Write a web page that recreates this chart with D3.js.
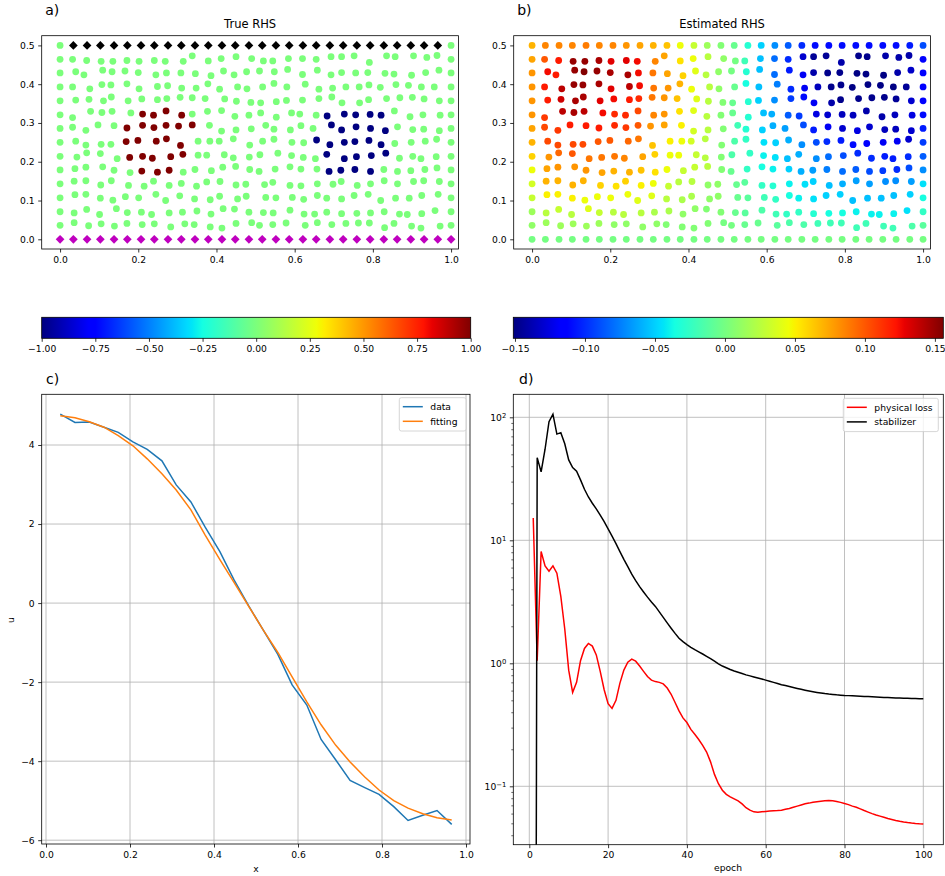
<!DOCTYPE html>
<html>
<head>
<meta charset="utf-8">
<script src="https://cdn.jsdelivr.net/npm/d3@7"></script>
<style>
  body { margin: 0; background: #fff; }
  svg { display: block; font-family: "DejaVu Sans", sans-serif; }
</style>
</head>
<body>
<div id="visualization"></div>
<script>
// ---- collocation points (rows 1..13, left to right, 30 per row) ----
const pointX = [
  0, 0.032, 0.068, 0.105, 0.135, 0.171, 0.202, 0.241, 0.269, 0.315, 0.338, 0.379, 0.412, 0.450, 0.490, 0.520, 0.544, 0.584, 0.620, 0.655, 0.693, 0.720, 0.752, 0.791, 0.835, 0.857, 0.904, 0.938, 0.964, 1,
  0, 0.040, 0.061, 0.109, 0.133, 0.166, 0.200, 0.245, 0.272, 0.309, 0.346, 0.386, 0.418, 0.445, 0.477, 0.510, 0.548, 0.582, 0.620, 0.658, 0.693, 0.720, 0.756, 0.787, 0.831, 0.854, 0.899, 0.935, 0.969, 1,
  0, 0.032, 0.076, 0.107, 0.130, 0.171, 0.202, 0.249, 0.275, 0.311, 0.348, 0.378, 0.408, 0.454, 0.478, 0.518, 0.547, 0.580, 0.627, 0.662, 0.697, 0.731, 0.765, 0.790, 0.819, 0.859, 0.891, 0.924, 0.957, 1,
  0, 0.040, 0.074, 0.111, 0.131, 0.174, 0.209, 0.249, 0.273, 0.307, 0.338, 0.371, 0.421, 0.451, 0.488, 0.513, 0.553, 0.579, 0.620, 0.662, 0.695, 0.721, 0.766, 0.789, 0.835, 0.869, 0.901, 0.931, 0.970, 1,
  0, 0.032, 0.078, 0.107, 0.133, 0.181, 0.211, 0.239, 0.271, 0.311, 0.338, 0.377, 0.413, 0.447, 0.483, 0.513, 0.553, 0.592, 0.613, 0.655, 0.683, 0.727, 0.756, 0.793, 0.821, 0.855, 0.895, 0.928, 0.972, 1,
  0, 0.032, 0.066, 0.097, 0.138, 0.171, 0.211, 0.240, 0.271, 0.303, 0.338, 0.382, 0.413, 0.450, 0.489, 0.526, 0.547, 0.589, 0.616, 0.647, 0.694, 0.720, 0.757, 0.794, 0.832, 0.863, 0.902, 0.930, 0.970, 1,
  0, 0.040, 0.066, 0.105, 0.130, 0.169, 0.199, 0.246, 0.272, 0.308, 0.353, 0.383, 0.407, 0.443, 0.485, 0.518, 0.547, 0.593, 0.623, 0.656, 0.690, 0.727, 0.754, 0.790, 0.821, 0.856, 0.898, 0.934, 0.963, 1,
  0, 0.043, 0.068, 0.103, 0.146, 0.178, 0.211, 0.236, 0.283, 0.314, 0.353, 0.375, 0.420, 0.443, 0.484, 0.511, 0.557, 0.592, 0.622, 0.653, 0.682, 0.727, 0.758, 0.796, 0.833, 0.868, 0.902, 0.923, 0.962, 1,
  0, 0.038, 0.066, 0.109, 0.138, 0.179, 0.209, 0.249, 0.279, 0.315, 0.345, 0.387, 0.416, 0.449, 0.485, 0.509, 0.550, 0.588, 0.616, 0.657, 0.688, 0.718, 0.754, 0.794, 0.828, 0.863, 0.897, 0.933, 0.964, 1,
  0, 0.036, 0.066, 0.104, 0.131, 0.175, 0.215, 0.239, 0.279, 0.310, 0.349, 0.375, 0.409, 0.450, 0.475, 0.523, 0.544, 0.588, 0.616, 0.658, 0.698, 0.719, 0.760, 0.794, 0.829, 0.863, 0.904, 0.930, 0.970, 1,
  0, 0.038, 0.066, 0.103, 0.135, 0.167, 0.201, 0.245, 0.270, 0.306, 0.344, 0.384, 0.408, 0.454, 0.476, 0.526, 0.552, 0.594, 0.623, 0.658, 0.682, 0.720, 0.752, 0.788, 0.820, 0.858, 0.893, 0.925, 0.967, 1,
  0, 0.036, 0.068, 0.101, 0.144, 0.172, 0.208, 0.234, 0.279, 0.313, 0.350, 0.386, 0.417, 0.446, 0.483, 0.520, 0.545, 0.588, 0.624, 0.651, 0.682, 0.720, 0.759, 0.794, 0.829, 0.868, 0.888, 0.925, 0.959, 1,
  0, 0.036, 0.073, 0.105, 0.139, 0.171, 0.210, 0.241, 0.283, 0.319, 0.343, 0.384, 0.414, 0.450, 0.490, 0.510, 0.544, 0.578, 0.627, 0.658, 0.695, 0.731, 0.763, 0.791, 0.830, 0.854, 0.899, 0.923, 0.972, 1
];

const pointY = [
  0.464, 0.464, 0.461, 0.459, 0.459, 0.461, 0.459, 0.461, 0.459, 0.459, 0.473, 0.460, 0.466, 0.471, 0.466, 0.460, 0.460, 0.466, 0.466, 0.464, 0.471, 0.471, 0.473, 0.456, 0.473, 0.471, 0.473, 0.469, 0.474, 0.464,
  0.429, 0.432, 0.424, 0.436, 0.432, 0.434, 0.430, 0.424, 0.429, 0.429, 0.427, 0.422, 0.434, 0.424, 0.432, 0.434, 0.432, 0.438, 0.425, 0.436, 0.424, 0.430, 0.429, 0.430, 0.428, 0.426, 0.423, 0.430, 0.436, 0.429,
  0.393, 0.393, 0.388, 0.399, 0.398, 0.401, 0.388, 0.394, 0.396, 0.390, 0.390, 0.401, 0.387, 0.393, 0.388, 0.393, 0.402, 0.393, 0.400, 0.387, 0.390, 0.393, 0.393, 0.398, 0.392, 0.399, 0.397, 0.393, 0.393, 0.393,
  0.357, 0.359, 0.361, 0.357, 0.367, 0.357, 0.362, 0.360, 0.363, 0.366, 0.365, 0.363, 0.362, 0.356, 0.353, 0.352, 0.355, 0.358, 0.359, 0.363, 0.367, 0.352, 0.352, 0.360, 0.363, 0.365, 0.366, 0.362, 0.357, 0.357,
  0.321, 0.314, 0.330, 0.327, 0.330, 0.326, 0.323, 0.320, 0.331, 0.320, 0.323, 0.330, 0.332, 0.317, 0.320, 0.326, 0.315, 0.326, 0.323, 0.320, 0.318, 0.323, 0.321, 0.322, 0.320, 0.331, 0.316, 0.321, 0.320, 0.321,
  0.286, 0.289, 0.281, 0.295, 0.293, 0.287, 0.294, 0.288, 0.294, 0.292, 0.295, 0.294, 0.279, 0.282, 0.285, 0.294, 0.284, 0.282, 0.293, 0.286, 0.295, 0.282, 0.290, 0.286, 0.280, 0.290, 0.283, 0.284, 0.280, 0.286,
  0.250, 0.253, 0.243, 0.245, 0.245, 0.252, 0.255, 0.253, 0.259, 0.242, 0.253, 0.253, 0.253, 0.259, 0.243, 0.253, 0.258, 0.250, 0.249, 0.256, 0.244, 0.250, 0.252, 0.255, 0.244, 0.247, 0.250, 0.253, 0.258, 0.250,
  0.214, 0.212, 0.223, 0.221, 0.208, 0.211, 0.214, 0.209, 0.213, 0.219, 0.217, 0.217, 0.218, 0.210, 0.212, 0.218, 0.222, 0.216, 0.211, 0.208, 0.219, 0.208, 0.213, 0.216, 0.222, 0.209, 0.214, 0.208, 0.213, 0.214,
  0.179, 0.182, 0.186, 0.187, 0.178, 0.172, 0.176, 0.173, 0.178, 0.173, 0.180, 0.177, 0.186, 0.188, 0.180, 0.175, 0.181, 0.187, 0.181, 0.181, 0.175, 0.178, 0.180, 0.175, 0.180, 0.175, 0.177, 0.180, 0.184, 0.179,
  0.143, 0.150, 0.151, 0.140, 0.151, 0.139, 0.137, 0.150, 0.139, 0.144, 0.137, 0.148, 0.149, 0.140, 0.142, 0.141, 0.147, 0.139, 0.138, 0.143, 0.142, 0.149, 0.139, 0.143, 0.151, 0.143, 0.149, 0.151, 0.149, 0.143,
  0.107, 0.115, 0.116, 0.106, 0.101, 0.110, 0.107, 0.116, 0.100, 0.112, 0.104, 0.102, 0.111, 0.104, 0.111, 0.108, 0.107, 0.108, 0.103, 0.113, 0.106, 0.104, 0.113, 0.116, 0.100, 0.106, 0.106, 0.113, 0.116, 0.107,
  0.071, 0.068, 0.077, 0.064, 0.079, 0.069, 0.070, 0.064, 0.068, 0.070, 0.073, 0.065, 0.079, 0.078, 0.070, 0.069, 0.068, 0.075, 0.065, 0.065, 0.070, 0.066, 0.067, 0.068, 0.071, 0.065, 0.064, 0.066, 0.074, 0.071,
  0.036, 0.043, 0.035, 0.040, 0.034, 0.041, 0.038, 0.040, 0.032, 0.040, 0.038, 0.032, 0.029, 0.041, 0.043, 0.036, 0.038, 0.042, 0.036, 0.043, 0.038, 0.041, 0.042, 0.042, 0.030, 0.041, 0.034, 0.029, 0.034, 0.036
];

const trueRHS = [
  0, 0, 0, 0, 0, 0, 0, 0, 0, 0, 0, 0, 0, 0, 0, 0, 0, 0, 0, 0, 0, 0, 0, 0, 0, 0, 0, 0, 0, 0,
  0, 0, 0, 0, 0, 0, 0, 0, 0, 0, 0, 0, 0, 0, 0, 0, 0, 0, 0, 0, 0, 0, 0, 0, 0, 0, 0, 0, 0, 0,
  0, 0, 0, 0, 0, 0, 0, 0, 0, 0, 0, 0, 0, 0, 0, 0, 0, 0, 0, 0, 0, 0, 0, 0, 0, 0, 0, 0, 0, 0,
  0, 0, 0, 0, 0, 0, 0, 0, 0, 0, 0, 0, 0, 0, 0, 0, 0, 0, 0, 0, 0, 0, 0, 0, 0, 0, 0, 0, 0, 0,
  0, 0, 0, 0, 0, 0, 1, 1, 1, 1, 0, 0, 0, 0, 0, 0, 0, 0, 0, 0, -1, -1, -1, -1, -1, 0, 0, 0, 0, 0,
  0, 0, 0, 0, 0, 1, 1, 1, 1, 1, 1, 0, 0, 0, 0, 0, 0, 0, 0, 0, -1, -1, -1, -1, -1, 0, 0, 0, 0, 0,
  0, 0, 0, 0, 0, 1, 1, 1, 1, 1, 0, 0, 0, 0, 0, 0, 0, 0, 0, -1, -1, -1, -1, -1, -1, 0, 0, 0, 0, 0,
  0, 0, 0, 0, 0, 1, 1, 1, 1, 1, 0, 0, 0, 0, 0, 0, 0, 0, 0, 0, -1, -1, -1, -1, -1, 0, 0, 0, 0, 0,
  0, 0, 0, 0, 0, 0, 1, 1, 1, 0, 0, 0, 0, 0, 0, 0, 0, 0, 0, 0, -1, -1, -1, -1, 0, 0, 0, 0, 0, 0,
  0, 0, 0, 0, 0, 0, 0, 0, 0, 0, 0, 0, 0, 0, 0, 0, 0, 0, 0, 0, 0, 0, 0, 0, 0, 0, 0, 0, 0, 0,
  0, 0, 0, 0, 0, 0, 0, 0, 0, 0, 0, 0, 0, 0, 0, 0, 0, 0, 0, 0, 0, 0, 0, 0, 0, 0, 0, 0, 0, 0,
  0, 0, 0, 0, 0, 0, 0, 0, 0, 0, 0, 0, 0, 0, 0, 0, 0, 0, 0, 0, 0, 0, 0, 0, 0, 0, 0, 0, 0, 0,
  0, 0, 0, 0, 0, 0, 0, 0, 0, 0, 0, 0, 0, 0, 0, 0, 0, 0, 0, 0, 0, 0, 0, 0, 0, 0, 0, 0, 0, 0
];

const estRHS = [
  0.075, 0.10, 0.12, 0.15, 0.15, 0.145, 0.13, 0.13, 0.125, 0.085, 0.075, 0.055, 0.045, 0.025, 0.01, 0.0, -0.02, -0.055, -0.08, -0.1, -0.13, -0.145, -0.145, -0.14, -0.148, -0.148, -0.14, -0.14, -0.14, -0.115,
  0.08, 0.125, 0.12, 0.15, 0.155, 0.15, 0.145, 0.145, 0.125, 0.09, 0.075, 0.06, 0.04, 0.025, 0.01, 0.0, -0.03, -0.055, -0.08, -0.105, -0.12, -0.14, -0.148, -0.148, -0.15, -0.15, -0.15, -0.14, -0.132, -0.115,
  0.08, 0.12, 0.14, 0.15, 0.15, 0.145, 0.13, 0.14, 0.125, 0.09, 0.08, 0.07, 0.045, 0.025, 0.01, -0.005, -0.035, -0.055, -0.075, -0.1, -0.12, -0.135, -0.148, -0.148, -0.15, -0.15, -0.15, -0.15, -0.145, -0.115,
  0.08, 0.12, 0.135, 0.145, 0.145, 0.13, 0.125, 0.12, 0.115, 0.09, 0.08, 0.065, 0.04, 0.025, 0.005, -0.005, -0.03, -0.05, -0.07, -0.095, -0.11, -0.12, -0.14, -0.148, -0.148, -0.148, -0.148, -0.145, -0.13, -0.115,
  0.08, 0.11, 0.14, 0.145, 0.14, 0.125, 0.115, 0.115, 0.105, 0.085, 0.08, 0.055, 0.04, 0.025, 0.005, -0.005, -0.03, -0.055, -0.06, -0.085, -0.095, -0.125, -0.13, -0.135, -0.135, -0.14, -0.14, -0.135, -0.125, -0.11,
  0.075, 0.105, 0.11, 0.12, 0.12, 0.12, 0.115, 0.11, 0.10, 0.08, 0.075, 0.05, 0.035, 0.025, 0.005, -0.02, -0.03, -0.05, -0.06, -0.065, -0.09, -0.105, -0.12, -0.13, -0.125, -0.13, -0.135, -0.135, -0.13, -0.105,
  0.07, 0.105, 0.105, 0.105, 0.105, 0.10, 0.10, 0.095, 0.09, 0.065, 0.05, 0.045, 0.035, 0.025, 0.005, -0.015, -0.025, -0.045, -0.05, -0.06, -0.07, -0.09, -0.10, -0.105, -0.11, -0.115, -0.12, -0.12, -0.13, -0.095,
  0.06, 0.08, 0.095, 0.10, 0.09, 0.09, 0.09, 0.085, 0.075, 0.06, 0.045, 0.045, 0.03, 0.025, 0.005, -0.015, -0.025, -0.04, -0.045, -0.055, -0.06, -0.07, -0.08, -0.09, -0.10, -0.10, -0.105, -0.105, -0.10, -0.085,
  0.045, 0.075, 0.08, 0.08, 0.08, 0.075, 0.07, 0.07, 0.065, 0.055, 0.045, 0.03, 0.03, 0.025, 0.005, -0.005, -0.025, -0.035, -0.04, -0.05, -0.06, -0.065, -0.075, -0.08, -0.085, -0.09, -0.095, -0.10, -0.09, -0.07,
  0.035, 0.07, 0.07, 0.07, 0.07, 0.06, 0.055, 0.06, 0.05, 0.045, 0.03, 0.025, 0.025, 0.01, 0.01, -0.005, -0.01, -0.025, -0.03, -0.04, -0.045, -0.05, -0.055, -0.06, -0.065, -0.065, -0.07, -0.07, -0.065, -0.045,
  0.03, 0.05, 0.05, 0.05, 0.045, 0.045, 0.045, 0.045, 0.04, 0.04, 0.025, 0.02, 0.02, 0.01, 0.01, -0.005, -0.01, -0.02, -0.025, -0.035, -0.04, -0.045, -0.05, -0.05, -0.055, -0.055, -0.055, -0.055, -0.05, -0.035,
  0.015, 0.025, 0.03, 0.025, 0.04, 0.03, 0.025, 0.025, 0.025, 0.02, 0.02, 0.01, 0.01, 0.005, 0.005, -0.005, -0.01, -0.015, -0.02, -0.025, -0.025, -0.03, -0.035, -0.035, -0.04, -0.04, -0.04, -0.04, -0.045, -0.025,
  0.01, 0.015, 0.015, 0.015, 0.015, 0.015, 0.01, 0.01, 0.01, 0.01, 0.005, 0.005, 0.005, 0.005, 0.0, 0.0, -0.005, -0.005, -0.01, -0.015, -0.015, -0.02, -0.02, -0.02, -0.02, -0.02, -0.02, -0.02, -0.015, -0.01
];

// top (y = 0.5) and bottom (y = 0) boundary rows
const edgeX = [0, 0.034, 0.069, 0.103, 0.138, 0.172, 0.207, 0.241, 0.276, 0.310, 0.345, 0.379, 0.414, 0.448, 0.483,
  0.517, 0.552, 0.586, 0.621, 0.655, 0.690, 0.724, 0.759, 0.793, 0.828, 0.862, 0.897, 0.931, 0.966, 1];
const topEst = [0.07, 0.085, 0.085, 0.085, 0.088, 0.085, 0.085, 0.08, 0.075, 0.07, 0.065, 0.045, 0.03, 0.015, 0.005,
  -0.005, -0.03, -0.05, -0.07, -0.085, -0.1, -0.11, -0.11, -0.11, -0.11, -0.11, -0.11, -0.11, -0.105, -0.09];
const bottomEst = [0, 0, 0, 0, 0, 0, 0, 0, 0, 0, 0, 0, 0, 0, 0, 0, 0, 0, 0, 0, 0, 0, 0, 0, 0, 0, 0, 0, 0, 0];

// ---- panel c ----
const curveX = [0.034, 0.069, 0.103, 0.138, 0.172, 0.207, 0.241, 0.276, 0.310, 0.345, 0.379, 0.414, 0.448, 0.483,
  0.517, 0.552, 0.586, 0.621, 0.655, 0.690, 0.724, 0.759, 0.793, 0.828, 0.862, 0.897, 0.931, 0.966];
const uData = [4.78, 4.57, 4.58, 4.45, 4.32, 4.08, 3.89, 3.60, 2.99, 2.56, 1.92, 1.30, 0.58, -0.08,
  -0.68, -1.30, -2.07, -2.58, -3.45, -3.97, -4.49, -4.67, -4.84, -5.15, -5.50, -5.37, -5.25, -5.60];
const uFit = [4.74, 4.69, 4.59, 4.45, 4.24, 3.98, 3.65, 3.27, 2.86, 2.36, 1.72, 1.10, 0.52, -0.09,
  -0.68, -1.25, -1.87, -2.50, -3.08, -3.60, -4.02, -4.40, -4.73, -5.00, -5.19, -5.33, -5.43, -5.49];

// ---- panel d (epochs 1..100) ----
const physLoss = [
  15.2, 1.05, 8.1, 6.2, 5.6, 6.2, 5.4, 3.5, 1.9, 0.88,
  0.58, 0.70, 1.05, 1.32, 1.45, 1.38, 1.17, 0.86, 0.61, 0.47,
  0.43, 0.50, 0.69, 0.88, 1.02, 1.08, 1.04, 0.95, 0.86, 0.78,
  0.73, 0.71, 0.70, 0.68, 0.63, 0.56, 0.48, 0.41, 0.36, 0.33,
  0.29, 0.265, 0.24, 0.215, 0.19, 0.158, 0.125, 0.105, 0.093, 0.086,
  0.082, 0.079, 0.076, 0.072, 0.067, 0.064, 0.062, 0.0615, 0.062, 0.0625,
  0.063, 0.0632, 0.0635, 0.064, 0.065, 0.066, 0.0675, 0.069, 0.0705, 0.072,
  0.073, 0.0742, 0.075, 0.0757, 0.0763, 0.0765, 0.0762, 0.0752, 0.074, 0.0725,
  0.071, 0.069, 0.0675, 0.0655, 0.0635, 0.0617, 0.060, 0.0585, 0.0572, 0.056,
  0.0548, 0.0538, 0.0528, 0.052, 0.0513, 0.0507, 0.0502, 0.0498, 0.0495, 0.0493
];
const stabilizer = [
  1e-12, 47, 36, 55, 92, 106, 73, 75, 61, 45,
  39, 36.5, 31, 26, 22.5, 20, 18, 16, 14.2, 12.4,
  10.8, 9.4, 8.1, 7.0, 6.1, 5.3, 4.7, 4.2, 3.8, 3.45,
  3.15, 2.9, 2.62, 2.36, 2.13, 1.93, 1.75, 1.6, 1.5, 1.42,
  1.35, 1.29, 1.24, 1.19, 1.14, 1.09, 1.04, 0.99, 0.95, 0.92,
  0.89, 0.865, 0.845, 0.825, 0.805, 0.79, 0.775, 0.76, 0.745, 0.73,
  0.715, 0.70, 0.685, 0.67, 0.66, 0.648, 0.636, 0.625, 0.615, 0.605,
  0.596, 0.588, 0.58, 0.573, 0.567, 0.562, 0.558, 0.554, 0.551, 0.548,
  0.546, 0.544, 0.542, 0.54, 0.538, 0.536, 0.534, 0.532, 0.530, 0.528,
  0.527, 0.525, 0.523, 0.522, 0.52, 0.519, 0.518, 0.517, 0.516, 0.515
];

const xTicksTop = [0, 0.2, 0.4, 0.6, 0.8, 1.0];
const yTicksTop = [0, 0.1, 0.2, 0.3, 0.4, 0.5];
const cbTicksA = [-1, -0.75, -0.5, -0.25, 0, 0.25, 0.5, 0.75, 1];
const cbTicksB = [-0.15, -0.1, -0.05, 0, 0.05, 0.1, 0.15];
const uTicks = [-6, -4, -2, 0, 2, 4];
const epochTicks = [0, 20, 40, 60, 80, 100];
const lossTicks = [0.1, 1, 10, 100];

// ---- helpers ----
const svg = d3.select('#visualization').append('svg').attr('width', 945).attr('height', 876);

const jetStops = [0, 0.11, 0.125, 0.34, 0.35, 0.375, 0.64, 0.65, 0.66, 0.89, 0.91, 1];
const jetR = d3.scaleLinear().domain([0, 0.35, 0.66, 0.89, 1]).range([0, 0, 1, 1, 0.5]).clamp(true);
const jetG = d3.scaleLinear().domain([0, 0.125, 0.375, 0.64, 0.91, 1]).range([0, 0, 1, 1, 0, 0]).clamp(true);
const jetB = d3.scaleLinear().domain([0, 0.11, 0.34, 0.65, 1]).range([0.5, 1, 1, 0, 0]).clamp(true);
const jet = (t) => d3.rgb(255 * jetR(t), 255 * jetG(t), 255 * jetB(t)).formatHex();

function frame(b) {
  svg.append('rect')
    .attr('x', b.x0).attr('y', b.y0)
    .attr('width', b.x1 - b.x0).attr('height', b.y1 - b.y0)
    .attr('fill', 'none').attr('stroke', '#000').attr('stroke-width', 0.8);
}

function styleAxis(g) {
  g.select('.domain').remove();
  g.attr('font-family', null).attr('font-size', 9.2);
  g.selectAll('.tick line').attr('stroke', '#000').attr('stroke-width', 0.8);
  g.selectAll('.tick text').attr('fill', '#000');
}

function xAxis(scale, y, ticks, fmt) {
  const g = svg.append('g').attr('transform', `translate(0,${y})`)
    .call(d3.axisBottom(scale).tickValues(ticks).tickFormat(fmt).tickSize(3.5).tickPadding(3.5));
  styleAxis(g);
}

function yAxis(scale, x, ticks, fmt) {
  const g = svg.append('g').attr('transform', `translate(${x},0)`)
    .call(d3.axisLeft(scale).tickValues(ticks).tickFormat(fmt).tickSize(3.5).tickPadding(3.5));
  styleAxis(g);
  return g;
}

function label(txt, x, y, size, anchor) {
  return svg.append('text').attr('x', x).attr('y', y)
    .attr('font-size', size).attr('text-anchor', anchor || 'start').text(txt);
}

function grid(b, xs, ys, xScale, yScale) {
  const g = svg.append('g').attr('stroke', '#b0b0b0').attr('stroke-width', 0.8);
  g.selectAll('.gx').data(xs).join('line')
    .attr('x1', (d) => xScale(d)).attr('x2', (d) => xScale(d)).attr('y1', b.y0).attr('y2', b.y1);
  g.selectAll('.gy').data(ys).join('line')
    .attr('y1', (d) => yScale(d)).attr('y2', (d) => yScale(d)).attr('x1', b.x0).attr('x2', b.x1);
}

function legend(b, entries) {
  const w = b.w, g = svg.append('g').attr('transform', `translate(${b.x},${b.y})`);
  g.append('rect').attr('width', w).attr('height', 33.3).attr('rx', 2)
    .attr('fill', '#fff').attr('fill-opacity', 0.8).attr('stroke', '#ccc').attr('stroke-width', 0.8);
  entries.forEach((e, i) => {
    const yy = 9 + i * 14.6;
    g.append('line').attr('x1', 3.5).attr('x2', 23.5).attr('y1', yy).attr('y2', yy)
      .attr('stroke', e.color).attr('stroke-width', 1.5);
    g.append('text').attr('x', 31).attr('y', yy + 3.3).attr('font-size', 9.2).text(e.name);
  });
}

// ---- panels a, b ----
const points = pointX.map((x, i) => ({ x, y: pointY[i], t: trueRHS[i], e: estRHS[i] }));
const diamond = d3.symbol(d3.symbolSquare, 38);

function scatterPanel(left, right, key, cDomain, title, tag, boundary) {
  const b = { x0: left, x1: right, y0: 35.7, y1: 249 };
  const x = d3.scaleLinear().domain([-0.047, 1.019]).range([b.x0, b.x1]);
  const y = d3.scaleLinear().domain([-0.025, 0.525]).range([b.y1, b.y0]);
  const c = d3.scaleLinear().domain(cDomain).range([0, 1]);

  const g = svg.append('g');
  g.selectAll('circle.p').data(points).join('circle')
    .attr('cx', (d) => x(d.x)).attr('cy', (d) => y(d.y)).attr('r', 3.4)
    .attr('fill', (d) => jet(c(d[key])));

  if (boundary) {
    g.selectAll('circle.c').data([edgeX[0], edgeX[edgeX.length - 1]]).join('circle')
      .attr('cx', (d) => x(d)).attr('cy', y(0.5)).attr('r', 3.4).attr('fill', jet(c(0)));
    g.selectAll('path.top').data(edgeX.slice(1, -1)).join('path')
      .attr('d', diamond).attr('fill', '#000')
      .attr('transform', (d) => `translate(${x(d)},${y(0.5)}) rotate(45)`);
    g.selectAll('path.bot').data(edgeX).join('path')
      .attr('d', diamond).attr('fill', '#bf00bf')
      .attr('transform', (d) => `translate(${x(d)},${y(0)}) rotate(45)`);
  } else {
    g.selectAll('circle.top').data(edgeX).join('circle')
      .attr('cx', (d) => x(d)).attr('cy', y(0.5)).attr('r', 3.4)
      .attr('fill', (d, i) => jet(c(topEst[i])));
    g.selectAll('circle.bot').data(edgeX).join('circle')
      .attr('cx', (d) => x(d)).attr('cy', y(0)).attr('r', 3.4)
      .attr('fill', (d, i) => jet(c(bottomEst[i])));
  }

  frame(b);
  xAxis(x, b.y1, xTicksTop, d3.format('.1f'));
  yAxis(y, b.x0, yTicksTop, d3.format('.1f'));
  label(title, (b.x0 + b.x1) / 2, 28, 11.5, 'middle');
  label(tag, b.x0 + 3.5, 15, 14);
}

function colorbar(x0, x1, dom, ticks, id) {
  const y0 = 317.3, y1 = 338.3;
  const s = d3.scaleLinear().domain(dom).range([x0, x1]);
  const grad = svg.append('defs').append('linearGradient').attr('id', id);
  grad.selectAll('stop').data(jetStops).join('stop')
    .attr('offset', (d) => d).attr('stop-color', (d) => jet(d));
  svg.append('rect').attr('x', x0).attr('y', y0).attr('width', x1 - x0).attr('height', y1 - y0)
    .attr('fill', `url(#${id})`).attr('stroke', '#000').attr('stroke-width', 0.8);
  xAxis(s, y1, ticks, d3.format('.2f'));
}

scatterPanel(41.7, 458.5, 't', [-1, 1], 'True RHS', 'a)', true);
scatterPanel(513.7, 930.5, 'e', [-0.1512, 0.156], 'Estimated RHS', 'b)', false);
colorbar(41.7, 470.7, [-1, 1], cbTicksA, 'cbA');
colorbar(513.3, 943.3, [-0.1512, 0.156], cbTicksB, 'cbB');

// ---- panel c ----
(function () {
  const b = { x0: 41.7, x1: 470, y0: 394.3, y1: 844 };
  const x = d3.scaleLinear().domain([0, 1]).range([46, 466]);
  const y = d3.scaleLinear().domain([-6, 4]).range([840.2, 445]);
  grid(b, xTicksTop, uTicks, x, y);
  const line = d3.line().x((d) => x(d[0])).y((d) => y(d[1]));
  svg.append('path').datum(curveX.map((v, i) => [v, uData[i]]))
    .attr('d', line).attr('fill', 'none').attr('stroke', '#1f77b4').attr('stroke-width', 1.5);
  svg.append('path').datum(curveX.map((v, i) => [v, uFit[i]]))
    .attr('d', line).attr('fill', 'none').attr('stroke', '#ff7f0e').attr('stroke-width', 1.5);
  frame(b);
  xAxis(x, b.y1, xTicksTop, d3.format('.1f'));
  yAxis(y, b.x0, uTicks, d3.format('d'));
  legend({ x: 399.3, y: 397.7, w: 66.7 }, [{ name: 'data', color: '#1f77b4' }, { name: 'fitting', color: '#ff7f0e' }]);
  label('c)', 46, 384, 14);
  label('x', 256, 872, 9.2, 'middle');
  label('u', 0, 0, 9.2, 'middle').attr('transform', 'translate(14,620) rotate(-90)');
}());

// ---- panel d ----
(function () {
  const b = { x0: 513.3, x1: 943.3, y0: 394.3, y1: 844.7 };
  const x = d3.scaleLinear().domain([0, 100]).range([529.3, 923.3]);
  const y = d3.scaleLog().domain([0.1, 100]).range([786.3, 417.3]);
  grid(b, epochTicks, lossTicks, x, y);

  svg.append('clipPath').attr('id', 'clipD').append('rect')
    .attr('x', b.x0).attr('y', b.y0).attr('width', b.x1 - b.x0).attr('height', b.y1 - b.y0);
  const line = d3.line().x((d, i) => x(i + 1)).y((d) => y(d));
  svg.append('path').datum(physLoss).attr('clip-path', 'url(#clipD)')
    .attr('d', line).attr('fill', 'none').attr('stroke', '#ff0000').attr('stroke-width', 1.5);
  svg.append('path').datum(stabilizer).attr('clip-path', 'url(#clipD)')
    .attr('d', line).attr('fill', 'none').attr('stroke', '#000').attr('stroke-width', 1.5);

  frame(b);
  xAxis(x, b.y1, epochTicks, d3.format('d'));
  const ga = yAxis(y, b.x0, lossTicks, () => '');
  ga.selectAll('.tick text').each(function (d) {
    const t = d3.select(this);
    t.text('10');
    t.append('tspan').attr('dy', '-0.45em').attr('font-size', 6.8).text(Math.round(Math.log10(d)).toString().replace('-', '\u2212'));
  });
  const minor = [];
  [0.01, 0.1, 1, 10].forEach((p) => [2, 3, 4, 5, 6, 7, 8, 9].forEach((m) => minor.push(p * m)));
  const mg = svg.append('g').attr('transform', `translate(${b.x0},0)`)
    .call(d3.axisLeft(y).tickValues(minor.filter((v) => v > 0.0335 && v < 154)).tickFormat('').tickSize(2));
  styleAxis(mg);
  mg.selectAll('.tick line').attr('stroke-width', 0.6);

  legend({ x: 843.3, y: 398.3, w: 95 }, [{ name: 'physical loss', color: '#ff0000' }, { name: 'stabilizer', color: '#000' }]);
  label('d)', 519, 384, 14);
  label('epoch', 728, 871, 9.2, 'middle');
}());
</script>
</body>
</html>
